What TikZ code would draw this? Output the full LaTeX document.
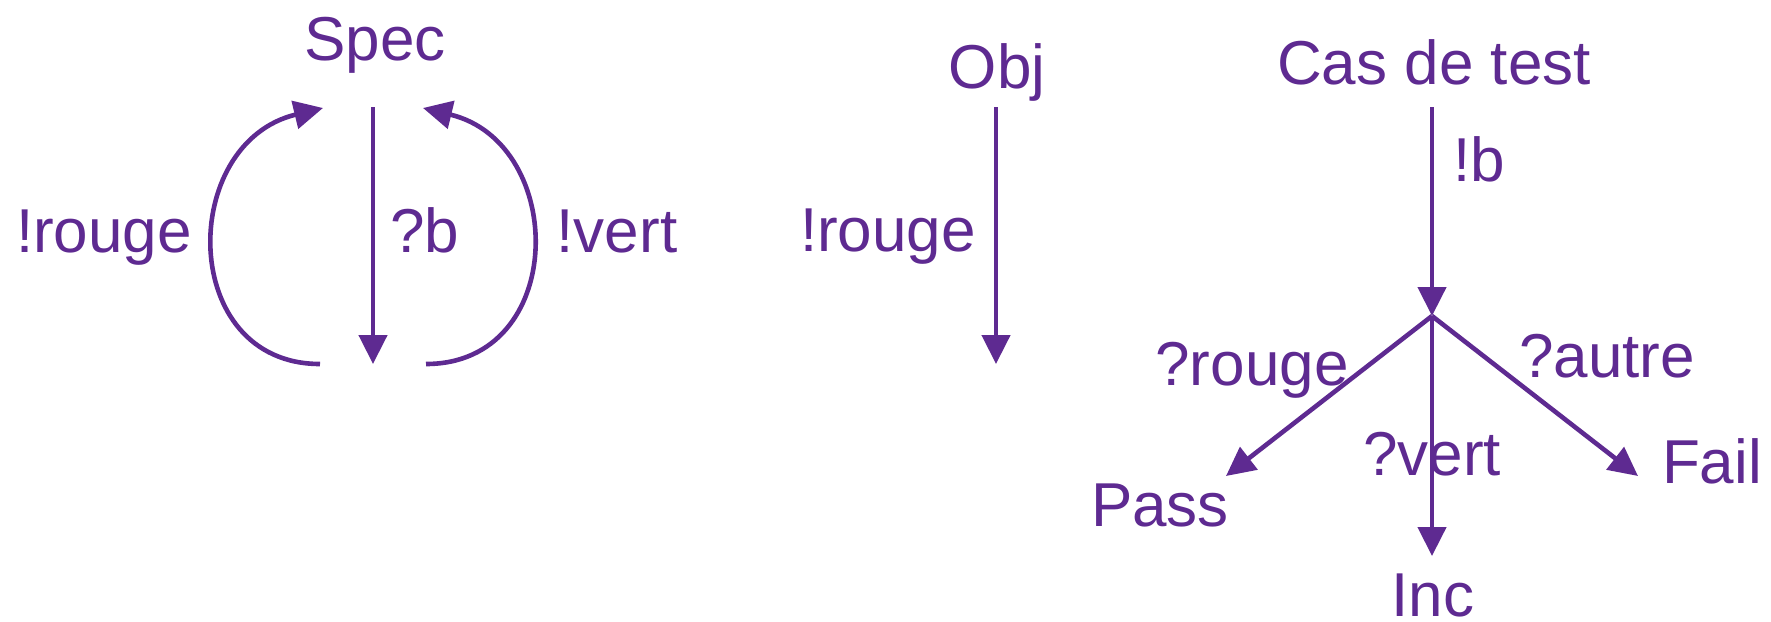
\documentclass[tikz,border=0pt]{standalone}
\usepackage{fontspec}
\setmainfont{Liberation Sans}
\usetikzlibrary{arrows.meta}
\definecolor{vio}{RGB}{94,42,145}
\begin{document}
\begin{tikzpicture}[x=0.5pt,y=-0.5pt,
  txt/.style={text=vio,inner sep=0pt,anchor=base,font=\fontsize{31pt}{31pt}\selectfont},
  edge/.style={draw=vio,line width=2.3pt,-{Triangle[length=14.5pt,width=14pt]}}]
\useasboundingbox (0,0) rectangle (1771,621);
% left: Spec
\node[txt] (spec) at (375,60) {Spec};
\node[txt] (lrouge) at (104,252) {!rouge};
\node[txt] (lb) at (425,252) {?b};
\node[txt] (lvert) at (617,252) {!vert};
\coordinate (s0) at (373,107);
\coordinate (s1) at (373,364);
\coordinate (la) at (320,364);
\coordinate (lt) at (323,108);
\coordinate (ra) at (426,364);
\coordinate (rt) at (423,108);
\draw[edge] (s0) -- (s1);
\draw[edge] (la) .. controls (178,364) and (178,143) .. (lt);
\draw[edge] (ra) .. controls (568,364) and (568,143) .. (rt);
% middle: Obj
\node[txt] (obj) at (997,88) {Obj};
\node[txt] (mrouge) at (888,251) {!rouge};
\coordinate (o0) at (996,107);
\coordinate (o1) at (996,364);
\draw[edge] (o0) -- (o1);
% right: Cas de test
\node[txt] (cas) at (1434,84) {Cas de test};
\node[txt] (lbb) at (1479,181) {!b};
\node[txt] (qrouge) at (1252,385) {?rouge};
\node[txt] (qvert) at (1432,475) {?vert};
\node[txt] (qautre) at (1607,377) {?autre};
\node[txt] (pass) at (1160,526) {Pass};
\node[txt] (inc) at (1433,616) {Inc};
\node[txt] (fail) at (1712,483) {Fail};
\coordinate (c0) at (1432,107);
\coordinate (j) at (1432,316);
\coordinate (tp) at (1226,476);
\coordinate (ti) at (1432,556);
\coordinate (tf) at (1638,476);
\draw[edge] (c0) -- (j);
\draw[edge] (j) -- (tp);
\draw[edge] (j) -- (ti);
\draw[edge] (j) -- (tf);
\end{tikzpicture}
\end{document}
